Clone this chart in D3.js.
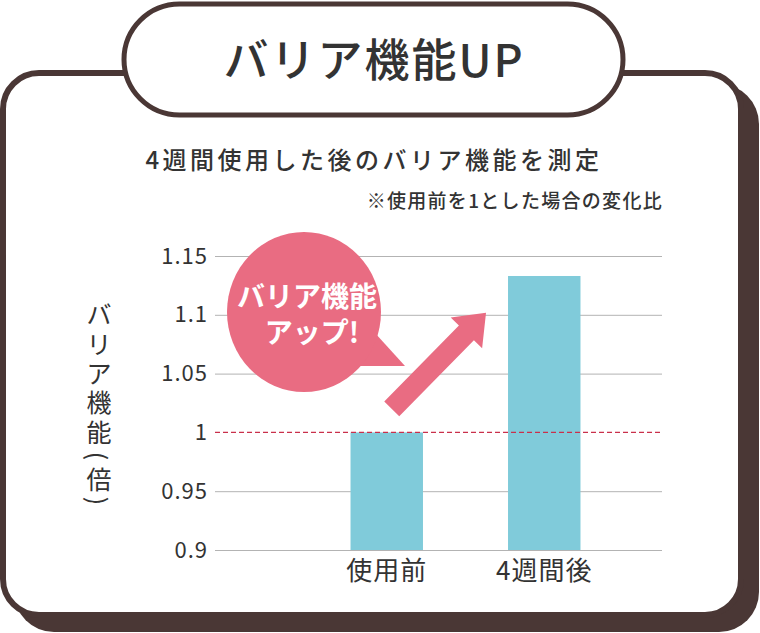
<!DOCTYPE html>
<html>
<head>
<meta charset="utf-8">
<script src="https://cdn.jsdelivr.net/npm/d3@7"></script>
<style>
  body { margin: 0; background: #fff; }
  svg { display: block; }
  text { font-family: "Noto Sans CJK JP", "Noto Sans", sans-serif; }
</style>
</head>
<body>
<script>
const width = 760;
const height = 633;

// data
const categories = ["使用前", "4週間後"];
const values = [1.0, 1.133];
const tickValues = [0.9, 0.95, 1, 1.05, 1.1, 1.15];
const tickLabels = ["0.9", "0.95", "1", "1.05", "1.1", "1.15"];
const yTitleChars = ["バ", "リ", "ア", "機", "能", "(", "倍", ")"];
const yTitlePos = [313, 343, 372, 401, 431, 456, 478, 501];

const dark = "#4a3735";
const pink = "#e96c82";
const barColor = "#80cbda";

const svg = d3.select("body")
  .append("svg")
  .attr("width", width)
  .attr("height", height);

// frame: shadow, card, title pill
svg.append("rect")
  .attr("x", 14).attr("y", 84)
  .attr("width", 745).attr("height", 548)
  .attr("rx", 40)
  .attr("fill", dark);

svg.append("rect")
  .attr("x", 3).attr("y", 73)
  .attr("width", 738).attr("height", 542)
  .attr("rx", 36)
  .attr("fill", "#fff")
  .attr("stroke", dark)
  .attr("stroke-width", 6);

svg.append("rect")
  .attr("x", 124).attr("y", 4)
  .attr("width", 499).attr("height", 111)
  .attr("rx", 55.5)
  .attr("fill", "#fff")
  .attr("stroke", dark)
  .attr("stroke-width", 5);

svg.append("text")
  .attr("x", 374).attr("y", 77)
  .attr("text-anchor", "middle")
  .attr("font-size", 45)
  .attr("font-weight", 500)
  .attr("letter-spacing", 2)
  .attr("fill", "#333")
  .text("バリア機能UP");

svg.append("text")
  .attr("x", 374).attr("y", 169)
  .attr("text-anchor", "middle")
  .attr("font-size", 24)
  .attr("font-weight", 500)
  .attr("letter-spacing", 3.5)
  .attr("fill", "#333")
  .text("4週間使用した後のバリア機能を測定");

svg.append("text")
  .attr("x", 663).attr("y", 208)
  .attr("text-anchor", "end")
  .attr("font-size", 19)
  .attr("font-weight", 500)
  .attr("letter-spacing", 1.3)
  .attr("fill", "#333")
  .text("※使用前を1とした場合の変化比");

// scales
const left = 215, right = 662;
const y = d3.scaleLinear()
  .domain([0.9, 1.15])
  .range([550, 256]);

const x = d3.scaleBand()
  .domain(categories)
  .range([308, 623])
  .paddingInner(0.54)
  .paddingOuter(0.27);

// y axis with gridlines
const yAxis = d3.axisLeft(y)
  .tickValues(tickValues)
  .tickFormat((d, i) => tickLabels[i])
  .tickSizeInner(-(right - left))
  .tickSizeOuter(0)
  .tickPadding(7);

const gy = svg.append("g")
  .attr("transform", `translate(${left},0)`)
  .call(yAxis);

gy.select(".domain").remove();
gy.selectAll(".tick line")
  .attr("stroke", "#b3b3b3")
  .attr("stroke-width", 1)
  .attr("stroke-opacity", d => d === 1 ? 0 : 1);
gy.selectAll(".tick text")
  .attr("font-family", "'Liberation Sans', Arial, sans-serif")
  .attr("font-size", 22)
  .attr("letter-spacing", 1)
  .attr("fill", "#333");

// bars
svg.selectAll("rect.bar")
  .data(values)
  .enter()
  .append("rect")
  .attr("class", "bar")
  .attr("x", (d, i) => x(categories[i]))
  .attr("y", d => y(d))
  .attr("width", x.bandwidth())
  .attr("height", d => y(0.9) - y(d))
  .attr("fill", barColor);

// baseline at 1
svg.append("line")
  .attr("x1", left).attr("x2", right)
  .attr("y1", y(1)).attr("y2", y(1))
  .attr("stroke", "#c9304b")
  .attr("stroke-width", 1.3)
  .attr("stroke-dasharray", "5,3");

// category labels
svg.selectAll("text.cat")
  .data(categories)
  .enter()
  .append("text")
  .attr("class", "cat")
  .attr("x", d => x(d) + x.bandwidth() / 2)
  .attr("y", 580)
  .attr("text-anchor", "middle")
  .attr("font-size", 26)
  .attr("letter-spacing", 1)
  .attr("fill", "#333")
  .text(d => d);

// y axis title, stacked vertically (parentheses turned sideways)
svg.selectAll("text.ytitle")
  .data(yTitleChars)
  .enter()
  .append("text")
  .attr("class", "ytitle")
  .attr("x", 99)
  .attr("y", (d, i) => yTitlePos[i])
  .attr("text-anchor", "middle")
  .attr("dominant-baseline", "central")
  .attr("font-size", 25)
  .attr("fill", "#333")
  .attr("transform", (d, i) => (d === "(" || d === ")") ? `rotate(90,99,${yTitlePos[i]})` : null)
  .text(d => d);

// speech bubble
svg.append("path")
  .attr("d", "M375,333 L405,366 L358,366 Z")
  .attr("fill", pink);
svg.append("ellipse")
  .attr("cx", 304).attr("cy", 312)
  .attr("rx", 77).attr("ry", 80)
  .attr("fill", pink);

svg.append("text")
  .attr("x", 307).attr("y", 307)
  .attr("text-anchor", "middle")
  .attr("font-size", 28)
  .attr("font-weight", 700)
  .attr("fill", "#fff")
  .text("バリア機能");
svg.append("text")
  .attr("x", 312).attr("y", 343)
  .attr("text-anchor", "middle")
  .attr("font-size", 28)
  .attr("font-weight", 700)
  .attr("fill", "#fff")
  .text("アップ!");

// arrow from before to after
const tail = [x(categories[0]) + x.bandwidth() / 2 + 5, y(1.02)];
const tip = [x(categories[1]) - 22, y(1.1017)];
const dx = tip[0] - tail[0], dy = tip[1] - tail[1];
const len = Math.hypot(dx, dy);
const ang = Math.atan2(dy, dx) * 180 / Math.PI;
const hw = 10.5, headW = 22, headL = 28;
const arrowPts = [
  [0, -hw], [len - headL, -hw], [len - headL, -headW], [len, 0],
  [len - headL, headW], [len - headL, hw], [0, hw]
];
svg.append("path")
  .attr("d", d3.line()(arrowPts) + "Z")
  .attr("transform", `translate(${tail[0]},${tail[1]}) rotate(${ang})`)
  .attr("fill", pink);
</script>
</body>
</html>
